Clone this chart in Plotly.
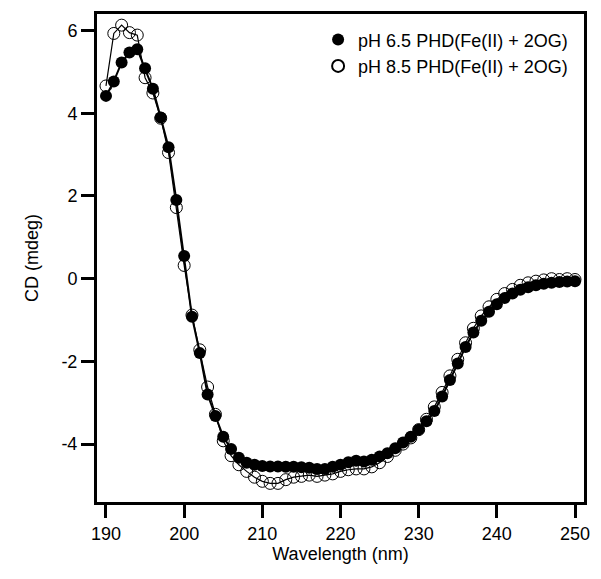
import plotly.graph_objects as go

wavelength = list(range(190, 251))

cd_ph65 = [4.42, 4.77, 5.23, 5.47, 5.55, 5.09, 4.59, 3.90, 3.18, 1.90,
           0.55, -0.92, -1.80, -2.80, -3.32, -3.82, -4.12, -4.33, -4.45, -4.50,
           -4.53, -4.54, -4.54, -4.55, -4.55, -4.56, -4.57, -4.60, -4.60, -4.55,
           -4.50, -4.44, -4.40, -4.42, -4.38, -4.30, -4.22, -4.10, -3.96, -3.82,
           -3.65, -3.45, -3.20, -2.85, -2.45, -2.05, -1.65, -1.30, -1.02, -0.80,
           -0.62, -0.47, -0.36, -0.27, -0.21, -0.16, -0.12, -0.10, -0.08, -0.07,
           -0.06]

cd_ph85 = [4.66, 5.93, 6.13, 5.95, 5.89, 4.86, 4.49, 3.88, 3.05, 1.72,
           0.32, -0.88, -1.72, -2.62, -3.28, -3.92, -4.28, -4.50, -4.66, -4.80,
           -4.90, -4.95, -4.95, -4.86, -4.80, -4.78, -4.75, -4.78, -4.75, -4.72,
           -4.66, -4.62, -4.60, -4.60, -4.55, -4.45, -4.30, -4.15, -4.00, -3.85,
           -3.65, -3.40, -3.10, -2.75, -2.35, -1.95, -1.55, -1.20, -0.90, -0.68,
           -0.50, -0.36, -0.26, -0.16, -0.10, -0.06, -0.03, 0.00, -0.02, 0.00,
           -0.02]

x_ticks = [190, 200, 210, 220, 230, 240, 250]
y_ticks = [-4, -2, 0, 2, 4, 6]
y_tick_labels = ["-4", "-2", "0", "2", "4", "6"]

name_65 = "pH 6.5 PHD(Fe(II) + 2OG)"
name_85 = "pH 8.5 PHD(Fe(II) + 2OG)"

FONT = "Liberation Sans, Arial, sans-serif"

fig = go.Figure()
fig.add_trace(go.Scatter(
    x=wavelength, y=cd_ph85, mode="lines+markers", showlegend=False,
    line=dict(color="black", width=1.2),
    marker=dict(symbol="circle-open", size=12, color="black", line=dict(width=1)),
))
fig.add_trace(go.Scatter(
    x=wavelength, y=cd_ph65, mode="lines+markers", showlegend=False,
    line=dict(color="black", width=2),
    marker=dict(symbol="circle", size=12, color="black"),
))
# legend entries (markers only)
fig.add_trace(go.Scatter(
    x=[None], y=[None], mode="markers", name=name_65,
    marker=dict(symbol="circle", size=12, color="black"),
))
fig.add_trace(go.Scatter(
    x=[None], y=[None], mode="markers", name=name_85,
    marker=dict(symbol="circle-open", size=12, color="black", line=dict(width=1)),
))

fig.update_layout(
    width=593, height=571,
    margin=dict(l=89, r=17, t=6, b=77, autoexpand=False),
    paper_bgcolor="white", plot_bgcolor="white",
    font=dict(family=FONT, color="black", size=18),
    showlegend=True,
    legend=dict(x=0.454, y=0.985, xanchor="left", yanchor="top",
                bgcolor="rgba(0,0,0,0)", borderwidth=0,
                font=dict(family=FONT, size=18, color="black"),
                itemsizing="constant", tracegroupgap=0),
    xaxis=dict(
        range=[188.85, 251.15], tickmode="array", tickvals=x_ticks,
        showline=True, linecolor="black", linewidth=3, mirror=True,
        ticks="outside", ticklen=13, tickwidth=3, tickcolor="black",
        showgrid=False, zeroline=False, automargin=False,
        tickfont=dict(family=FONT, size=18, color="black"),
        title=dict(text="Wavelength (nm)", standoff=0,
                   font=dict(family=FONT, size=18, color="black")),
    ),
    yaxis=dict(
        range=[-5.4, 6.4], tickmode="array", tickvals=y_ticks, ticktext=y_tick_labels,
        showline=True, linecolor="black", linewidth=3, mirror=True,
        ticks="outside", ticklen=13, tickwidth=3, tickcolor="black",
        showgrid=False, zeroline=False, automargin=False,
        tickfont=dict(family=FONT, size=18, color="black"),
        title=dict(text="CD (mdeg)", standoff=19,
                   font=dict(family=FONT, size=18, color="black")),
    ),
)

fig.write_html("out.html")
